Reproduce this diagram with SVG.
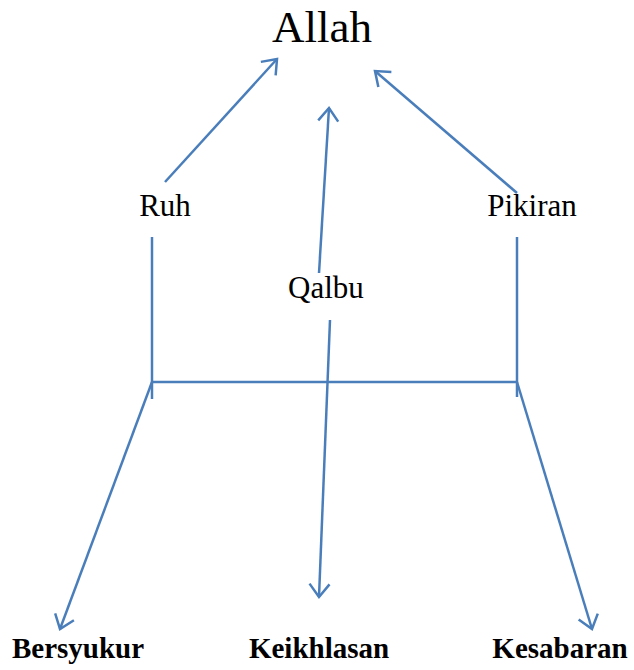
<svg xmlns="http://www.w3.org/2000/svg" width="634" height="670" viewBox="0 0 634 670">
<style>
.c{stroke:#4a7ebb;stroke-width:2.5;fill:none}
.a{marker-end:url(#ah)}
.t{font-family:"Liberation Serif","Times New Roman",serif;font-size:31px;fill:#000;text-anchor:middle}
.b{font-weight:bold;font-size:29px}
</style>
<defs>
<marker id="ah" markerUnits="userSpaceOnUse" markerWidth="30" markerHeight="30" refX="15" refY="15" orient="auto" viewBox="0 0 30 30">
<path d="M2,5 L15,15 L2,25" fill="none" stroke="#4a7ebb" stroke-width="2.5"/>
</marker>
</defs>
<rect width="634" height="670" fill="#fff"/>
<g id="connectors">
<path class="c a" d="M165,182 L277,59"/>
<path class="c a" d="M319,273 L329,108"/>
<path class="c a" d="M517,193 L375,71"/>
<path class="c" d="M152,237 L152,399"/>
<path class="c" d="M517,237 L517,397"/>
<path class="c" d="M151,382 L518,382"/>
<path class="c a" d="M330,320 L319,597"/>
<path class="c a" d="M152,382 L60,629"/>
<path class="c a" d="M517,382 L592,629"/>
</g>
<g id="allah"><text class="t" x="322" y="42" style="font-size:45px">Allah</text></g>
<g id="ruh"><text class="t" x="165" y="216">Ruh</text></g>
<g id="pikiran"><text class="t" x="532" y="216">Pikiran</text></g>
<g id="qalbu"><text class="t" x="326" y="298">Qalbu</text></g>
<g id="bersyukur"><text class="t b" x="78" y="658">Bersyukur</text></g>
<g id="keikhlasan"><text class="t b" x="319" y="658">Keikhlasan</text></g>
<g id="kesabaran"><text class="t b" x="560" y="658">Kesabaran</text></g>
</svg>
